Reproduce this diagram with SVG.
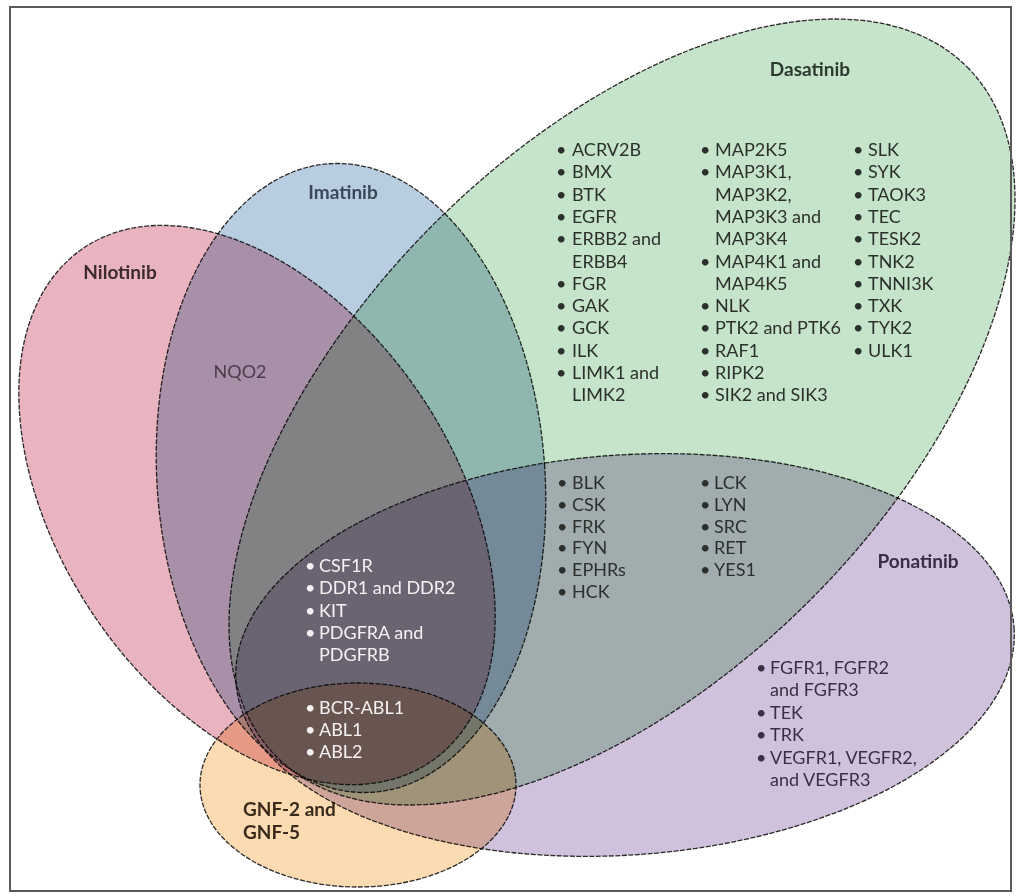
<svg xmlns="http://www.w3.org/2000/svg" width="1016" height="896" viewBox="0 0 1016 896">
<style>
  .node { mix-blend-mode: multiply; }
  .shape { stroke: #2a2a2a; stroke-width: 1.3; stroke-dasharray: 5 1.5; }
  .lbl { font-family: Lato, "Open Sans", "Liberation Sans", sans-serif; font-weight: 700; font-size: 19px; }
  .item { font-family: Lato, "Open Sans", "Liberation Sans", sans-serif; font-size: 18px; fill: #2c302c; }
  .pur { fill: #3a3042; }
  .white { fill: #f6f2f3; }
</style>
<rect width="1016" height="896" fill="#ffffff"/>

<g id="nilotinib" class="node">
  <ellipse class="shape" cx="257" cy="505" rx="310" ry="197" transform="rotate(56 257 505)" fill="#e9b4c0"/>
  <text class="lbl" x="120" y="279" text-anchor="middle" fill="#3b2a30">Nilotinib</text>
</g>
<g id="imatinib" class="node">
  <ellipse class="shape" cx="351" cy="478" rx="194" ry="315" transform="rotate(-4 351 478)" fill="#b8cde0"/>
  <text class="lbl" x="343" y="199" text-anchor="middle" fill="#3a4858">Imatinib</text>
</g>
<g id="dasatinib" class="node">
  <ellipse class="shape" cx="622" cy="412" rx="488" ry="266" transform="rotate(-45 622 412)" fill="#c6e4c9"/>
  <text class="lbl" x="810" y="76" text-anchor="middle" fill="#2c3a30">Dasatinib</text>
</g>
<g id="ponatinib" class="node">
  <ellipse class="shape" cx="625" cy="655" rx="390" ry="200" transform="rotate(-4 625 655)" fill="#d0c1dd"/>
  <text class="lbl" x="918" y="568" text-anchor="middle" fill="#3a2d45">Ponatinib</text>
</g>
<g id="gnf" class="node">
  <ellipse class="shape" cx="358" cy="785" rx="158" ry="102" fill="#fcdab2"/>
  <text class="lbl" fill="#3a2a1c"><tspan x="243" y="816">GNF-2 and</tspan><tspan x="243" y="839">GNF-5</tspan></text>
</g>

<g id="nil-ima">
  <text class="item" x="240" y="378" text-anchor="middle" style="fill:#4a3c4c">NQO2</text>
</g>

<g id="dasatinib-only">
  <text class="item">
    <tspan x="556" y="156">•</tspan><tspan x="572" y="156">ACRV2B</tspan>
    <tspan x="556" y="178">•</tspan><tspan x="572" y="178">BMX</tspan>
    <tspan x="556" y="201">•</tspan><tspan x="572" y="201">BTK</tspan>
    <tspan x="556" y="223">•</tspan><tspan x="572" y="223">EGFR</tspan>
    <tspan x="556" y="245">•</tspan><tspan x="572" y="245">ERBB2 and</tspan>
    <tspan x="572" y="268">ERBB4</tspan>
    <tspan x="556" y="290">•</tspan><tspan x="572" y="290">FGR</tspan>
    <tspan x="556" y="312">•</tspan><tspan x="572" y="312">GAK</tspan>
    <tspan x="556" y="334">•</tspan><tspan x="572" y="334">GCK</tspan>
    <tspan x="556" y="357">•</tspan><tspan x="572" y="357">ILK</tspan>
    <tspan x="556" y="379">•</tspan><tspan x="572" y="379">LIMK1 and</tspan>
    <tspan x="572" y="401">LIMK2</tspan>
  </text>
  <text class="item">
    <tspan x="700" y="156">•</tspan><tspan x="715" y="156">MAP2K5</tspan>
    <tspan x="700" y="178">•</tspan><tspan x="715" y="178">MAP3K1,</tspan>
    <tspan x="715" y="201">MAP3K2,</tspan>
    <tspan x="715" y="223">MAP3K3 and</tspan>
    <tspan x="715" y="245">MAP3K4</tspan>
    <tspan x="700" y="268">•</tspan><tspan x="715" y="268">MAP4K1 and</tspan>
    <tspan x="715" y="290">MAP4K5</tspan>
    <tspan x="700" y="312">•</tspan><tspan x="715" y="312">NLK</tspan>
    <tspan x="700" y="334">•</tspan><tspan x="715" y="334">PTK2 and PTK6</tspan>
    <tspan x="700" y="357">•</tspan><tspan x="715" y="357">RAF1</tspan>
    <tspan x="700" y="379">•</tspan><tspan x="715" y="379">RIPK2</tspan>
    <tspan x="700" y="401">•</tspan><tspan x="715" y="401">SIK2 and SIK3</tspan>
  </text>
  <text class="item">
    <tspan x="853" y="156">•</tspan><tspan x="868" y="156">SLK</tspan>
    <tspan x="853" y="178">•</tspan><tspan x="868" y="178">SYK</tspan>
    <tspan x="853" y="201">•</tspan><tspan x="868" y="201">TAOK3</tspan>
    <tspan x="853" y="223">•</tspan><tspan x="868" y="223">TEC</tspan>
    <tspan x="853" y="245">•</tspan><tspan x="868" y="245">TESK2</tspan>
    <tspan x="853" y="268">•</tspan><tspan x="868" y="268">TNK2</tspan>
    <tspan x="853" y="290">•</tspan><tspan x="868" y="290">TNNI3K</tspan>
    <tspan x="853" y="312">•</tspan><tspan x="868" y="312">TXK</tspan>
    <tspan x="853" y="334">•</tspan><tspan x="868" y="334">TYK2</tspan>
    <tspan x="853" y="357">•</tspan><tspan x="868" y="357">ULK1</tspan>
  </text>
</g>

<g id="das-pon">
  <text class="item">
    <tspan x="557" y="489">•</tspan><tspan x="572" y="489">BLK</tspan>
    <tspan x="557" y="511">•</tspan><tspan x="572" y="511">CSK</tspan>
    <tspan x="557" y="533">•</tspan><tspan x="572" y="533">FRK</tspan>
    <tspan x="557" y="554">•</tspan><tspan x="572" y="554">FYN</tspan>
    <tspan x="557" y="576">•</tspan><tspan x="572" y="576">EPHRs</tspan>
    <tspan x="557" y="598">•</tspan><tspan x="572" y="598">HCK</tspan>
  </text>
  <text class="item">
    <tspan x="700" y="489">•</tspan><tspan x="714" y="489">LCK</tspan>
    <tspan x="700" y="511">•</tspan><tspan x="714" y="511">LYN</tspan>
    <tspan x="700" y="533">•</tspan><tspan x="714" y="533">SRC</tspan>
    <tspan x="700" y="554">•</tspan><tspan x="714" y="554">RET</tspan>
    <tspan x="700" y="576">•</tspan><tspan x="714" y="576">YES1</tspan>
  </text>
</g>

<g id="ponatinib-only">
  <text class="item pur">
    <tspan x="756" y="674">•</tspan><tspan x="770" y="674">FGFR1, FGFR2</tspan>
    <tspan x="770" y="696">and FGFR3</tspan>
    <tspan x="756" y="719">•</tspan><tspan x="770" y="719">TEK</tspan>
    <tspan x="756" y="741">•</tspan><tspan x="770" y="741">TRK</tspan>
    <tspan x="756" y="764">•</tspan><tspan x="770" y="764">VEGFR1, VEGFR2,</tspan>
    <tspan x="770" y="786">and VEGFR3</tspan>
  </text>
</g>

<g id="four-way">
  <text class="item white">
    <tspan x="305" y="572">•</tspan><tspan x="319" y="572">CSF1R</tspan>
    <tspan x="305" y="594">•</tspan><tspan x="319" y="594">DDR1 and DDR2</tspan>
    <tspan x="305" y="617">•</tspan><tspan x="319" y="617">KIT</tspan>
    <tspan x="305" y="639">•</tspan><tspan x="319" y="639">PDGFRA and</tspan>
    <tspan x="319" y="661">PDGFRB</tspan>
  </text>
</g>

<g id="five-way">
  <text class="item white">
    <tspan x="305" y="714">•</tspan><tspan x="319" y="714">BCR-ABL1</tspan>
    <tspan x="305" y="736">•</tspan><tspan x="319" y="736">ABL1</tspan>
    <tspan x="305" y="758">•</tspan><tspan x="319" y="758">ABL2</tspan>
  </text>
</g>

<g id="connectors"></g>

<rect x="10" y="7" width="1001" height="884" fill="none" stroke="#5a5a5a" stroke-width="2"/>
</svg>
